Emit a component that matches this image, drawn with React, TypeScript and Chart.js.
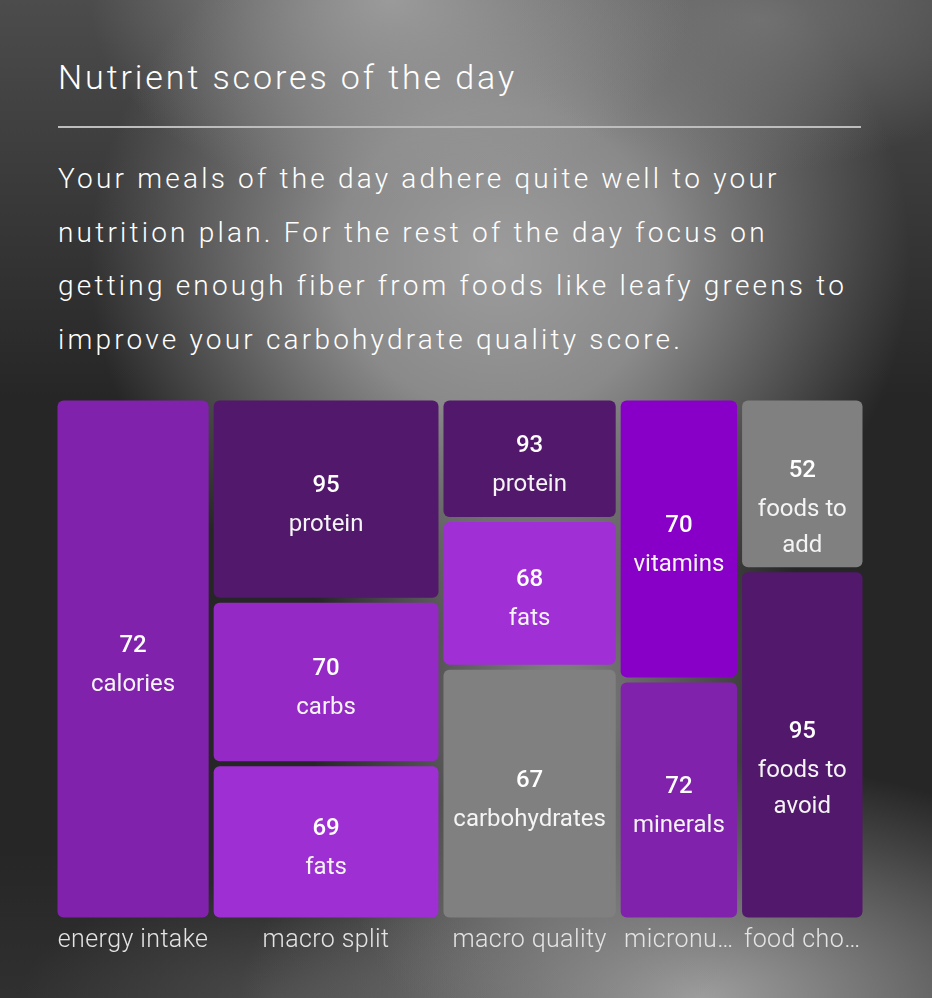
import React, { useEffect, useRef } from 'react';
import { Chart, registerables } from 'chart.js';

Chart.register(...registerables);

// ---- data ----
const groupNames = ['energy intake', 'macro split', 'macro quality', 'micronutrients', 'food choices'];
const cellGroup = [0, 1, 1, 1, 2, 2, 2, 3, 3, 4, 4];
const cellNames = ['calories', 'protein', 'carbs', 'fats', 'protein', 'fats', 'carbohydrates', 'vitamins', 'minerals', 'foods to add', 'foods to avoid'];
const cellScores = [72, 95, 70, 69, 93, 68, 67, 70, 72, 52, 95];
const cellWeights = [19.3, 11.0, 8.9, 8.5, 5.1, 6.2, 10.6, 8.1, 6.9, 5.1, 10.4];
const cellColors = ['#8022ac', '#52186c', '#9529c6', '#9e2fd3', '#52186c', '#a030d6', '#808080', '#8800c8', '#8022ac', '#808080', '#52186c'];

const titleText = 'Nutrient scores of the day';
const bodyLines = [
  'Your meals of the day adhere quite well to your',
  'nutrition plan. For the rest of the day focus on',
  'getting enough fiber from foods like leafy greens to',
  'improve your carbohydrate quality score.',
];

const GAP = 5;
const LABEL_SIZE = 25;
const LABEL_FONT = `300 ${LABEL_SIZE}px Roboto`;
const LABEL_SPACING = '0.4px';

function computeLayout() {
  const colTotals = groupNames.map((_, g) =>
    cellWeights.reduce((s, w, i) => (cellGroup[i] === g ? s + w : s), 0)
  );
  const total = colTotals.reduce((a, b) => a + b, 0);
  const cols: { x0: number; x1: number }[] = [];
  let acc = 0;
  colTotals.forEach((t) => {
    cols.push({ x0: acc, x1: acc + t });
    acc += t;
  });
  const yAcc = groupNames.map(() => 0);
  const rects = cellWeights.map((w, i) => {
    const g = cellGroup[i];
    const y0 = yAcc[g];
    const y1 = y0 + (w / colTotals[g]) * 100;
    yAcc[g] = y1;
    return { x0: cols[g].x0, x1: cols[g].x1, y0, y1 };
  });
  return { total, cols, rects };
}

const measureCtx: any = typeof document !== 'undefined' ? document.createElement('canvas').getContext('2d') : null;

function inkWidth(t: string) {
  const m = measureCtx.measureText(t);
  return (m.actualBoundingBoxLeft || 0) + (m.actualBoundingBoxRight || m.width);
}

function truncate(text: string, inner: number) {
  if (!measureCtx) return text;
  measureCtx.font = LABEL_FONT;
  measureCtx.letterSpacing = LABEL_SPACING;
  if (inkWidth(text) <= inner + 1) return text;
  let t = text;
  while (t.length > 1 && inkWidth(t.trimEnd() + '…') > inner - 3) t = t.slice(0, -1);
  return t.trimEnd() + '…';
}

function wrap(ctx: CanvasRenderingContext2D, text: string, maxW: number) {
  const words = text.split(' ');
  const lines: string[] = [];
  let cur = '';
  words.forEach((w) => {
    const test = cur ? cur + ' ' + w : w;
    if (ctx.measureText(test).width > maxW && cur) {
      lines.push(cur);
      cur = w;
    } else cur = test;
  });
  if (cur) lines.push(cur);
  return lines;
}

const spacingPlugin = {
  id: 'labelSpacing',
  beforeDraw(chart: any) {
    chart.ctx.letterSpacing = LABEL_SPACING;
  },
};

const cellPlugin = {
  id: 'sliceDiceCells',
  afterDatasetsDraw(chart: any) {
    const { ctx } = chart;
    const xs = chart.scales.x;
    const ys = chart.scales.y;
    const { rects } = computeLayout();
    ctx.save();
    ctx.letterSpacing = '0px';
    rects.forEach((r, i) => {
      const left = xs.getPixelForValue(r.x0) + GAP / 2;
      const right = xs.getPixelForValue(r.x1) - GAP / 2;
      const top = ys.getPixelForValue(r.y0) + GAP / 2;
      const bottom = ys.getPixelForValue(r.y1) - GAP / 2;
      ctx.fillStyle = cellColors[i];
      ctx.beginPath();
      ctx.roundRect(left, top, right - left, bottom - top, 6);
      ctx.fill();
      const cx = (left + right) / 2;
      const cy = (top + bottom) / 2;
      ctx.fillStyle = '#ffffff';
      ctx.textAlign = 'center';
      ctx.textBaseline = 'alphabetic';
      ctx.font = '500 24px Roboto';
      ctx.fillText(String(cellScores[i]), cx, cy - 7);
      ctx.font = '400 24px Roboto';
      ctx.fillStyle = '#f4f4f4';
      const lines = wrap(ctx, cellNames[i], right - left - 8);
      lines.forEach((l, k) => ctx.fillText(l, cx, cy + 32 + k * 36));
    });
    ctx.restore();
  },
};

function TreeChart() {
  const ref = useRef<HTMLCanvasElement>(null);
  useEffect(() => {
    if (!ref.current) return;
    const { total, cols } = computeLayout();
    const centers = cols.map((c) => (c.x0 + c.x1) / 2);
    const chart = new Chart(ref.current, {
      type: 'scatter',
      data: { datasets: [] },
      options: {
        animation: false,
        responsive: true,
        maintainAspectRatio: false,
        layout: { padding: 0 },
        plugins: { legend: { display: false }, tooltip: { enabled: false } },
        scales: {
          x: {
            type: 'linear',
            min: 0,
            max: total,
            grid: { display: false, drawTicks: false },
            border: { display: false },
            afterBuildTicks: (scale: any) => {
              scale.ticks = centers.map((v) => ({ value: v }));
            },
            afterFit: (scale: any) => {
              scale.paddingLeft = 0;
              scale.paddingRight = 0;
            },
            ticks: {
              autoSkip: false,
              maxRotation: 0,
              minRotation: 0,
              padding: 6,
              color: '#e4e4e4',
              font: { family: 'Roboto', size: LABEL_SIZE, weight: '300' as any },
              callback: function (this: any, _v: any, index: number) {
                const c = cols[index];
                const inner = (this.width || 810) * ((c.x1 - c.x0) / total) - GAP;
                return truncate(groupNames[index], inner);
              },
            },
          },
          y: {
            type: 'linear',
            min: 0,
            max: 100,
            reverse: true,
            display: false,
          },
        },
      },
      plugins: [spacingPlugin, cellPlugin],
    });
    return () => chart.destroy();
  }, []);
  return <canvas ref={ref} />;
}

export default function App() {
  const bg = [
    'radial-gradient(ellipse 300px 200px at 390px 0px, rgba(160,160,160,0.9), rgba(160,160,160,0) 100%)',
    'radial-gradient(ellipse 260px 150px at 760px 20px, rgba(120,120,120,0.8), rgba(120,120,120,0) 100%)',
    'radial-gradient(ellipse 410px 380px at 500px 260px, rgba(156,156,156,1) 0%, rgba(138,138,138,1) 40%, rgba(138,138,138,0) 100%)',
    'radial-gradient(ellipse 250px 380px at 560px 700px, rgba(138,138,138,0.95), rgba(138,138,138,0) 100%)',
    'radial-gradient(ellipse 460px 240px at 700px 1000px, rgba(158,158,158,1), rgba(158,158,158,0) 100%)',
    'radial-gradient(ellipse 260px 120px at 280px 1000px, rgba(80,80,80,0.8), rgba(80,80,80,0) 100%)',
    'linear-gradient(180deg, #4c4c4c 0%, #262626 40%, #262626 85%, #303030 100%)',
  ].join(',');
  return (
    <div
      style={{
        position: 'fixed',
        left: 0,
        top: 0,
        width: 932,
        height: 998,
        background: bg,
        fontFamily: 'Roboto, sans-serif',
        color: '#fff',
        overflow: 'hidden',
      }}
    >
      <div
        style={{
          position: 'absolute',
          left: 58,
          top: 60,
          fontSize: 34,
          lineHeight: '34px',
          fontWeight: 300,
          letterSpacing: 2.9,
          whiteSpace: 'nowrap',
        }}
      >
        {titleText}
      </div>
      <div
        style={{
          position: 'absolute',
          left: 58,
          top: 126,
          width: 803,
          height: 2,
          background: '#bdbdbd',
        }}
      />
      <div
        style={{
          position: 'absolute',
          left: 58,
          top: 152,
          fontSize: 28,
          lineHeight: '53.5px',
          fontWeight: 300,
          letterSpacing: 3.2,
          whiteSpace: 'nowrap',
        }}
      >
        {bodyLines.map((l, i) => (
          <React.Fragment key={i}>
            {l}
            {i < bodyLines.length - 1 ? <br /> : null}
          </React.Fragment>
        ))}
      </div>
      <div style={{ position: 'absolute', left: 55, top: 398, width: 810, height: 564 }}>
        <TreeChart />
      </div>
    </div>
  );
}
